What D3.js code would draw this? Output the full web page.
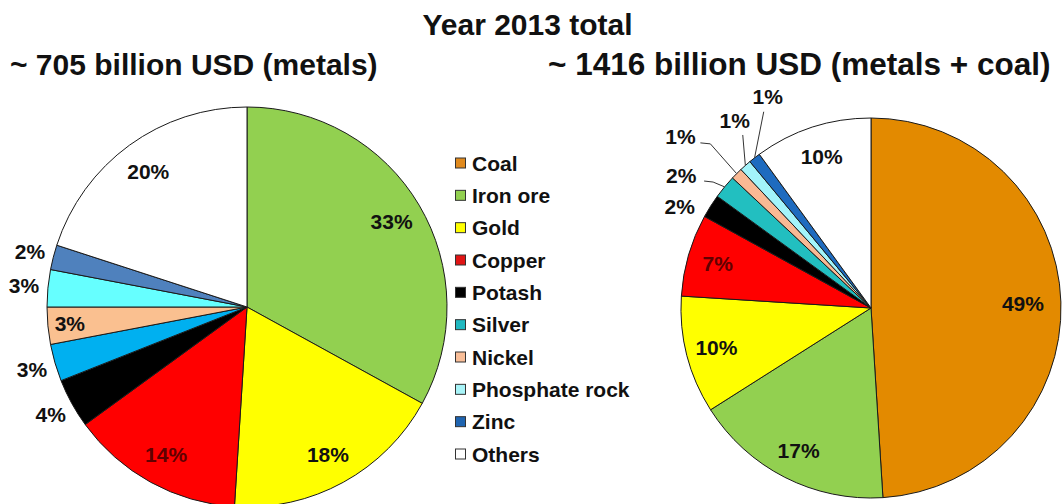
<!DOCTYPE html>
<html>
<head>
<meta charset="utf-8">
<script src="https://cdn.jsdelivr.net/npm/d3@7"></script>
<style>
  html, body { margin: 0; padding: 0; background: #fff; }
  svg { display: block; font-family: "Liberation Sans", Arial, Helvetica, sans-serif; font-weight: bold; }
</style>
</head>
<body>
<svg id="chart" width="1062" height="504"></svg>
<script>
// ---- data -------------------------------------------------------------
const metalsCategories = ["Iron ore", "Gold", "Copper", "Potash", "Silver", "Nickel", "Phosphate rock", "Zinc", "Others"];
const metalsShares     = [33, 18, 14, 4, 3, 3, 3, 2, 20];

const totalCategories  = ["Coal", "Iron ore", "Gold", "Copper", "Potash", "Silver", "Nickel", "Phosphate rock", "Zinc", "Others"];
const totalShares      = [49, 17, 10, 7, 2, 2, 1, 1, 1, 10];

const legendCategories = ["Coal", "Iron ore", "Gold", "Copper", "Potash", "Silver", "Nickel", "Phosphate rock", "Zinc", "Others"];

const headline    = "Year 2013 total";
const metalsTitle = "~ 705 billion USD (metals)";
const totalTitle  = "~ 1416 billion USD (metals + coal)";

// ---- styles -----------------------------------------------------------
const legendColors = {
  "Coal": "#E08A1E", "Iron ore": "#92D050", "Gold": "#FFFF00", "Copper": "#E01414",
  "Potash": "#000000", "Silver": "#20B8C0", "Nickel": "#F9BE98", "Phosphate rock": "#A8F4F8",
  "Zinc": "#1F64B0", "Others": "#FFFFFF"
};
const metalsColors = {
  "Iron ore": "#92D050", "Gold": "#FFFF00", "Copper": "#FF0000", "Potash": "#000000",
  "Silver": "#00B0F0", "Nickel": "#FAC090", "Phosphate rock": "#66FFFF", "Zinc": "#4F81BD",
  "Others": "#FFFFFF"
};
const totalColors = {
  "Coal": "#E38A00", "Iron ore": "#92D050", "Gold": "#FFFF00", "Copper": "#FF0000",
  "Potash": "#000000", "Silver": "#22BFC0", "Nickel": "#F9B994", "Phosphate rock": "#A3F4FA",
  "Zinc": "#1E6BBF", "Others": "#FFFFFF"
};
const labelInk = { "Copper": "#600000" };

// label placement: radius as a fraction of the pie radius, optional angle (deg)
// and optional leader-line bend points relative to the label centre
const metalsLabelLayout = {
  "Potash": { r: 1.12 }, "Silver": { r: 1.12 }, "Nickel": { r: 0.89 },
  "Phosphate rock": { r: 1.12 }, "Zinc": { r: 1.12 }
};
const totalLabelLayout = {
  "Coal": { r: 0.80 },
  "Potash": { r: 1.14, angle: 298 },
  "Silver": { r: 1.22, angle: 305, lead: [[23, 6], [32, 7]] },
  "Nickel": { r: 1.35, angle: 312, lead: [[20, 6.5], [30, 7.5]] },
  "Phosphate rock": { r: 1.22, angle: 324, lead: [[8, 14.5]] },
  "Zinc": { r: 1.24, angle: 334, lead: [[-4, 15.5]] }
};

const svg = d3.select("#chart");
svg.append("rect").attr("width", 1062).attr("height", 504).attr("fill", "#fff");

// ---- titles -------------------------------------------------------------
svg.append("text").attr("x", 527.5).attr("y", 35).attr("text-anchor", "middle")
  .attr("font-size", 30).attr("fill", "#111").text(headline);
svg.append("text").attr("x", 10).attr("y", 75)
  .attr("font-size", 30).attr("fill", "#111").text(metalsTitle);
svg.append("text").attr("x", 548).attr("y", 75)
  .attr("font-size", 31.5).attr("fill", "#111").text(totalTitle);

// ---- pies ---------------------------------------------------------------
function drawPie(cx, cy, R, cats, vals, colors, layout) {
  const data = cats.map((c, i) => ({ name: c, value: vals[i] }));
  const arcs = d3.pie().sort(null).value(d => d.value)(data);
  const arc = d3.arc().innerRadius(0).outerRadius(R);
  const g = svg.append("g").attr("transform", `translate(${cx},${cy})`);

  g.selectAll("path.slice").data(arcs).join("path")
    .attr("class", "slice")
    .attr("d", arc)
    .attr("fill", d => colors[d.data.name])
    .attr("stroke", "#1a1a1a")
    .attr("stroke-width", 1)
    .attr("stroke-linejoin", "round");

  arcs.forEach(a => {
    const opt = layout[a.data.name] || {};
    const mid = (a.startAngle + a.endAngle) / 2;
    const ang = opt.angle != null ? opt.angle * Math.PI / 180 : mid;
    const r = (opt.r != null ? opt.r : 0.84) * R;
    const x = r * Math.sin(ang), y = -r * Math.cos(ang);

    if (opt.lead) {
      const pts = opt.lead.map(([dx, dy]) => [x + dx, y + dy]);
      pts.push([R * Math.sin(mid), -R * Math.cos(mid)]);
      g.append("path")
        .attr("d", d3.line()(pts))
        .attr("fill", "none")
        .attr("stroke", "#333")
        .attr("stroke-width", 1);
    }

    g.append("text")
      .attr("x", x).attr("y", y).attr("dy", "0.36em")
      .attr("text-anchor", "middle")
      .attr("font-size", 21)
      .attr("fill", labelInk[a.data.name] || "#111")
      .text(a.data.value + "%");
  });
}

drawPie(247, 307, 200, metalsCategories, metalsShares, metalsColors, metalsLabelLayout);
drawPie(871, 308, 190, totalCategories, totalShares, totalColors, totalLabelLayout);

// ---- legend -------------------------------------------------------------
const legendY = d3.scalePoint().domain(legendCategories).range([163, 454]);
const legend = svg.append("g");
legendCategories.forEach(c => {
  const cy = legendY(c);
  legend.append("rect")
    .attr("x", 455.5).attr("y", cy - 5).attr("width", 10).attr("height", 10)
    .attr("fill", legendColors[c]).attr("stroke", "#333").attr("stroke-width", 1);
  legend.append("text")
    .attr("x", 472).attr("y", cy).attr("dy", "0.36em")
    .attr("font-size", 21).attr("fill", "#111").text(c);
});
</script>
</body>
</html>
